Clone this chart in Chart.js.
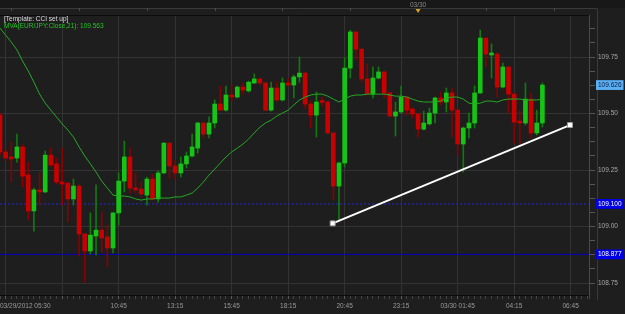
<!DOCTYPE html>
<html><head><meta charset="utf-8">
<script src="https://cdn.jsdelivr.net/npm/chart.js@4.4.1/dist/chart.umd.min.js"></script>
<style>html,body{margin:0;padding:0;background:#1e1e1e;overflow:hidden}#wrap{width:625px;height:314px;position:relative}</style>
</head><body><div id="wrap"><canvas id="c" width="625" height="314"></canvas></div>
<script>
// 15-minute candles, EUR/JPY, starting 03/29/2012 05:30 (index 0)
const openP = [109.493,109.330,109.308,109.303,109.352,109.228,109.069,109.162,109.153,109.316,
109.277,109.197,109.192,109.122,109.179,108.967,108.892,108.958,108.984,108.954,
108.905,109.060,109.201,109.308,109.170,109.166,109.139,109.210,109.122,109.237,
109.369,109.268,109.237,109.277,109.312,109.347,109.458,109.409,109.458,109.542,
109.515,109.582,109.573,109.617,109.600,109.635,109.653,109.635,109.515,109.613,
109.560,109.635,109.626,109.662,109.679,109.542,109.493,109.553,109.551,109.414,
109.179,109.281,109.701,109.861,109.785,109.653,109.586,109.657,109.684,109.591,
109.489,109.507,109.573,109.520,109.498,109.431,109.454,109.502,109.569,109.551,
109.591,109.515,109.365,109.436,109.458,109.591,109.834,109.759,109.763,109.617,
109.706,109.586,109.462,109.458,109.564,109.414,109.458];
const highP = [109.502,109.338,109.374,109.409,109.361,109.285,109.170,109.237,109.334,109.347,
109.303,109.347,109.195,109.210,109.184,108.970,109.060,109.184,109.064,109.007,
109.062,109.237,109.378,109.347,109.237,109.197,109.219,109.232,109.246,109.372,
109.372,109.294,109.308,109.330,109.409,109.462,109.462,109.485,109.560,109.622,
109.622,109.626,109.622,109.635,109.644,109.675,109.657,109.639,109.639,109.639,
109.657,109.657,109.670,109.750,109.681,109.555,109.595,109.573,109.555,109.416,
109.285,109.746,109.869,109.863,109.787,109.719,109.706,109.706,109.686,109.595,
109.551,109.622,109.575,109.524,109.500,109.511,109.524,109.573,109.595,109.613,
109.613,109.517,109.440,109.502,109.622,109.869,109.836,109.808,109.768,109.723,
109.708,109.591,109.511,109.635,109.591,109.515,109.635];
const lowP = [109.316,109.290,109.197,109.285,109.175,109.029,108.980,109.095,109.150,109.268,
109.188,109.095,109.020,109.095,108.869,108.754,108.878,108.874,108.887,108.821,
108.883,109.007,109.153,109.148,109.148,109.131,109.095,109.117,109.108,109.235,
109.215,109.210,109.219,109.259,109.308,109.325,109.392,109.392,109.436,109.513,
109.511,109.555,109.569,109.586,109.595,109.633,109.626,109.511,109.511,109.555,
109.555,109.622,109.569,109.639,109.524,109.436,109.396,109.533,109.409,109.117,
109.029,109.263,109.657,109.737,109.639,109.582,109.569,109.653,109.569,109.485,
109.400,109.502,109.493,109.480,109.396,109.427,109.449,109.458,109.538,109.507,
109.396,109.316,109.241,109.392,109.436,109.589,109.706,109.657,109.573,109.613,
109.502,109.369,109.361,109.449,109.392,109.405,109.440];
const closeP = [109.330,109.303,109.299,109.352,109.223,109.069,109.162,109.153,109.316,109.272,
109.197,109.188,109.122,109.179,108.967,108.892,108.962,108.984,108.949,108.905,
109.060,109.201,109.308,109.170,109.162,109.144,109.210,109.122,109.237,109.369,
109.268,109.237,109.277,109.312,109.352,109.458,109.409,109.458,109.542,109.515,
109.582,109.573,109.617,109.604,109.639,109.653,109.635,109.515,109.613,109.560,
109.635,109.626,109.662,109.679,109.542,109.493,109.551,109.549,109.414,109.179,
109.281,109.701,109.861,109.785,109.653,109.586,109.657,109.684,109.591,109.489,
109.507,109.573,109.515,109.498,109.431,109.458,109.502,109.569,109.551,109.591,
109.515,109.365,109.436,109.458,109.591,109.834,109.763,109.768,109.617,109.706,
109.586,109.462,109.458,109.564,109.414,109.458,109.626];
const maValues = [109.878,109.847,109.816,109.781,109.732,109.688,109.639,109.586,109.546,109.515,
109.485,109.454,109.427,109.396,109.352,109.312,109.277,109.241,109.201,109.170,
109.139,109.135,109.135,109.131,109.122,109.117,109.122,109.122,109.126,109.126,
109.126,109.131,109.131,109.139,109.148,109.170,109.197,109.228,109.254,109.281,
109.308,109.330,109.347,109.365,109.387,109.414,109.440,109.458,109.471,109.489,
109.502,109.515,109.538,109.560,109.573,109.582,109.586,109.586,109.577,109.564,
109.551,109.564,109.577,109.582,109.582,109.586,109.586,109.586,109.586,109.582,
109.577,109.577,109.573,109.564,109.555,109.551,109.551,109.551,109.555,109.569,
109.573,109.573,109.564,109.546,109.542,109.546,109.555,109.555,109.551,109.560,
109.564,109.564,109.564,109.560,109.560,109.560,109.563];
const trendX = [58.88, 100.88];
const trendY = [109.014, 109.449];
const solidLevel = 108.877;
const dashedLevel = 109.100;
const lastPrice = 109.626;
const yMajorTicks = [108.75, 109.00, 109.25, 109.50, 109.75];
const ySpecialTicks = [lastPrice, dashedLevel, solidLevel];
const xLabelIdx = [0,21,31,41,51,61,71,81,91,101];
const xLabels = ['03/29/2012 05:30','10:45','13:15','15:45','18:15','20:45','23:15','03/30 01:45','04:15','06:45'];
const xGridIdx = [1,11,21,31,41,51,61,71,81,91,101];
const hourMarkIdx = [2,14,26,38,50,62,86,98];
const dayBreakIdx = 74;
const dayBreakLabel = '03/30';
const headerLines = ['[Template: CCI set up]', 'MVA(EUR/JPY:Close,21): 109.563'];

const X_MIN = 0, X_MAX = 104.25, Y_MIN = 108.697, Y_MAX = 109.936;
const FONT = '"Liberation Sans", Arial, sans-serif';
const idx = openP.map((_, i) => i);
const isUp = i => closeP[i] >= openP[i];
const near = (a, b) => Math.abs(a - b) < 1e-6;
const isMajor = v => yMajorTicks.some(m => near(m, v));
const isSpecial = v => ySpecialTicks.some(m => near(m, v));

const framePlugin = {
  id: 'frame',
  beforeDraw(chart) {
    const { ctx, chartArea: a } = chart;
    ctx.save();
    ctx.fillStyle = '#1e1e1e';
    ctx.fillRect(0, 0, chart.width, chart.height);
    ctx.fillStyle = '#181818';
    ctx.fillRect(0, 0, chart.width, 8);
    ctx.strokeStyle = '#3a3a3a';
    ctx.lineWidth = 1;
    ctx.beginPath(); ctx.moveTo(0, 8.5); ctx.lineTo(597, 8.5); ctx.stroke();
    ctx.beginPath(); ctx.moveTo(597.5, 8.5); ctx.lineTo(597.5, a.bottom + 5); ctx.stroke();
    ctx.restore();
  },
  afterDraw(chart) {
    const { ctx, chartArea: a, scales } = chart;
    ctx.save();
    ctx.strokeStyle = '#0c0c0c';
    ctx.lineWidth = 1;
    ctx.beginPath(); ctx.moveTo(0, a.top + 0.5); ctx.lineTo(a.right, a.top + 0.5); ctx.stroke();
    ctx.strokeStyle = '#4a4a4a';
    hourMarkIdx.forEach(i => {
      const x = Math.round(scales.x.getPixelForValue(i)) + 0.5;
      ctx.beginPath(); ctx.moveTo(x, 8); ctx.lineTo(x, 11); ctx.stroke();
    });
    const dx = scales.x.getPixelForValue(dayBreakIdx);
    ctx.font = '6.5px ' + FONT;
    ctx.fillStyle = '#8a8a8a';
    ctx.textAlign = 'center';
    ctx.textBaseline = 'alphabetic';
    ctx.fillText(dayBreakLabel, dx, 7);
    ctx.fillStyle = '#d9a21b';
    ctx.beginPath(); ctx.moveTo(dx - 2.5, 9); ctx.lineTo(dx + 2.5, 9); ctx.lineTo(dx, 13); ctx.closePath(); ctx.fill();
    ctx.textAlign = 'left';
    ctx.fillStyle = '#dcdcdc';
    ctx.fillText(headerLines[0], 4, 21);
    ctx.fillStyle = '#22c322';
    ctx.fillText(headerLines[1], 4, 27.5);
    ctx.restore();
  }
};

new Chart(document.getElementById('c'), {
  type: 'bar',
  data: {
    datasets: [
      { type: 'line', label: 'trend', data: trendX.map((x, i) => ({ x, y: trendY[i] })),
        borderColor: '#ffffff', borderWidth: 2, pointStyle: 'rect', pointRadius: 3.5,
        pointBackgroundColor: '#ffffff', pointBorderColor: '#9a9a9a', pointBorderWidth: 1, order: -1 },
      { type: 'line', label: 'MVA', data: idx.map(i => ({ x: i, y: maValues[i] })),
        borderColor: '#24a824', borderWidth: 1, pointRadius: 0, tension: 0, order: 0 },
      { label: 'bodies', data: idx.map(i => ({ x: i, y: [openP[i], closeP[i]] })),
        backgroundColor: c => isUp(c.dataIndex) ? '#16c416' : '#c80000',
        barThickness: 4, grouped: false, minBarLength: 2, borderWidth: 0, order: 1 },
      { label: 'wicks', data: idx.map(i => ({ x: i, y: [lowP[i], highP[i]] })),
        backgroundColor: c => isUp(c.dataIndex) ? '#107a10' : '#8a0000',
        barThickness: 1, grouped: false, borderWidth: 0, order: 2 },
      { type: 'line', label: 'level1', data: [{ x: X_MIN, y: solidLevel }, { x: X_MAX, y: solidLevel }],
        borderColor: '#0000c8', borderWidth: 1, pointRadius: 0, order: 3 },
      { type: 'line', label: 'level2', data: [{ x: X_MIN, y: dashedLevel }, { x: X_MAX, y: dashedLevel }],
        borderColor: '#2626d8', borderWidth: 1, borderDash: [2, 2], pointRadius: 0, order: 3 }
    ]
  },
  options: {
    responsive: false, animation: false, devicePixelRatio: 1, events: [],
    layout: { autoPadding: false, padding: { top: 15, left: 0, right: 0, bottom: 0 } },
    plugins: { legend: { display: false }, tooltip: { enabled: false }, title: { display: false } },
    scales: {
      x: {
        type: 'linear', min: X_MIN, max: X_MAX, offset: false,
        afterBuildTicks: s => { const t = []; for (let i = 0; i <= 104; i++) t.push({ value: i }); t.push({ value: X_MAX }); s.ticks = t; },
        afterFit: s => { s.height = 19; s.paddingLeft = 0; s.paddingRight = 0; },
        grid: { offset: false, drawTicks: true, tickLength: 4,
          color: c => (c.tick && xGridIdx.includes(c.tick.value)) ? '#333333' : 'rgba(0,0,0,0)',
          tickColor: c => (c.tick && xGridIdx.includes(c.tick.value)) ? '#5a5a5a' : '#444444' },
        border: { display: true, color: '#0c0c0c' },
        ticks: { autoSkip: false, maxRotation: 0, minRotation: 0, align: 'inner', padding: 3,
          color: '#9a9a9a', font: { family: FONT, size: 6.5 },
          callback: v => { const k = xLabelIdx.indexOf(v); return k >= 0 ? xLabels[k] : ''; } }
      },
      y: {
        position: 'right', min: Y_MIN, max: Y_MAX,
        afterBuildTicks: s => {
          const vals = [];
          for (let k = -1; k <= 19; k++) { const v = +(108.75 + k * 0.0625).toFixed(4); if (v >= Y_MIN && v <= Y_MAX) vals.push(v); }
          ySpecialTicks.forEach(v => vals.push(v));
          vals.sort((a, b) => a - b);
          s.ticks = vals.map(v => ({ value: v }));
        },
        afterFit: s => { s.width = 36; s.paddingTop = 0; s.paddingBottom = 0; },
        grid: { drawTicks: true, tickLength: 6,
          color: c => (c.tick && isMajor(c.tick.value)) ? '#333333' : 'rgba(0,0,0,0)',
          tickColor: c => (c.tick && isSpecial(c.tick.value)) ? 'rgba(0,0,0,0)' : '#555555' },
        border: { display: true, color: '#4a4a4a' },
        ticks: { autoSkip: false, padding: 3, font: { family: FONT, size: 6.5 },
          color: c => near(c.tick.value, lastPrice) ? '#0b1c44' : (isSpecial(c.tick.value) ? '#ffffff' : '#a8a8a8'),
          showLabelBackdrop: c => isSpecial(c.tick.value),
          backdropColor: c => near(c.tick.value, lastPrice) ? '#5aaef2' : '#0000e6',
          backdropPadding: { top: 1, bottom: 1, left: 2, right: 2 },
          callback: v => isSpecial(v) ? v.toFixed(3) : (isMajor(v) ? v.toFixed(2) : '') }
      }
    }
  },
  plugins: [framePlugin]
});
</script></body></html>
